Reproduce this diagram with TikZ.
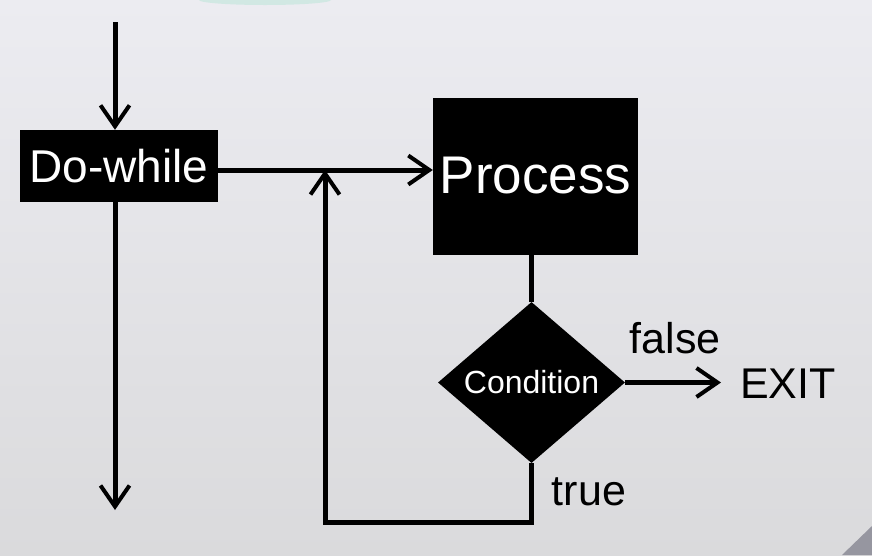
\documentclass[tikz,border=0pt]{standalone}
\usepackage{fontspec}
\setmainfont{Liberation Sans}
\usepackage{xcolor}
\usepackage{tikz}
\usetikzlibrary{positioning, shapes, shapes.geometric, arrows.meta, calc, backgrounds}

\definecolor{bgtop}{RGB}{236,236,241}
\definecolor{bgbottom}{RGB}{218,218,220}
\definecolor{glow}{RGB}{170,226,208}
\definecolor{corner}{RGB}{150,150,160}

\tikzset{
  blockbox/.style={rectangle, fill=black, text=white, inner sep=0pt},
  decision/.style={diamond, fill=black, text=white, inner sep=0pt, aspect=1.16,
    minimum width=187pt, minimum height=161pt, font=\fontsize{32}{35}\selectfont},
  flow/.style={line width=5pt, -{Straight Barb[length=21pt, width=29pt, line width=4pt]}},
  plainline/.style={line width=5pt},
  word/.style={inner sep=0pt, text=black, font=\fontsize{43}{46}\selectfont}
}

\begin{document}
\begin{tikzpicture}[x=1pt, y=-1pt]
      \useasboundingbox (0,0) rectangle (872,555);
      % background of the slide
      \fill[top color=bgtop, bottom color=bgbottom] (0,0) rectangle (872,555);
      \begin{scope}
        \clip (0,0) rectangle (872,555);
        \fill[glow, opacity=0.4] (265,0) ellipse (66 and 5);
      \end{scope}
      \fill[corner] (842,555) -- (872,526) -- (872,555) -- cycle;

      % Blocks
      \node[blockbox, minimum width=198pt, minimum height=72pt,
        font=\fontsize{46}{50}\selectfont] (dowhile) at (119,166) {Do-while};
      \node[blockbox, minimum width=205pt, minimum height=157pt,
        font=\fontsize{53}{58}\selectfont] (process) at (535.5,176) {Process};
      \node[decision] (cond) at (531.5,382.5) {Condition};
      \node[word, anchor=west] (exit) at (740,384) {EXIT};
      \node[word] (false) at (675,338) {false};
      \node[word] (true) at (589,492) {true};

      % Helper points
      \coordinate (start) at (115,22);
      \coordinate (leave) at (115,510);
      \coordinate (joint) at (325,170);
      \coordinate (back) at (325,522);

      % Connectors
      \draw[flow] (start) -- (start |- dowhile.north);
      \draw[flow] (start |- dowhile.south) -- (leave);
      \draw[flow] (dowhile.east |- joint) -- (process.west |- joint);
      \draw[plainline] (process.south -| cond.north) -- (cond.north);
      \draw[flow] (cond.east) -- ([xshift=-19pt]exit.west |- cond.east);
      \draw[flow] (cond.south) |- (back) -- (joint);
\end{tikzpicture}
\end{document}
